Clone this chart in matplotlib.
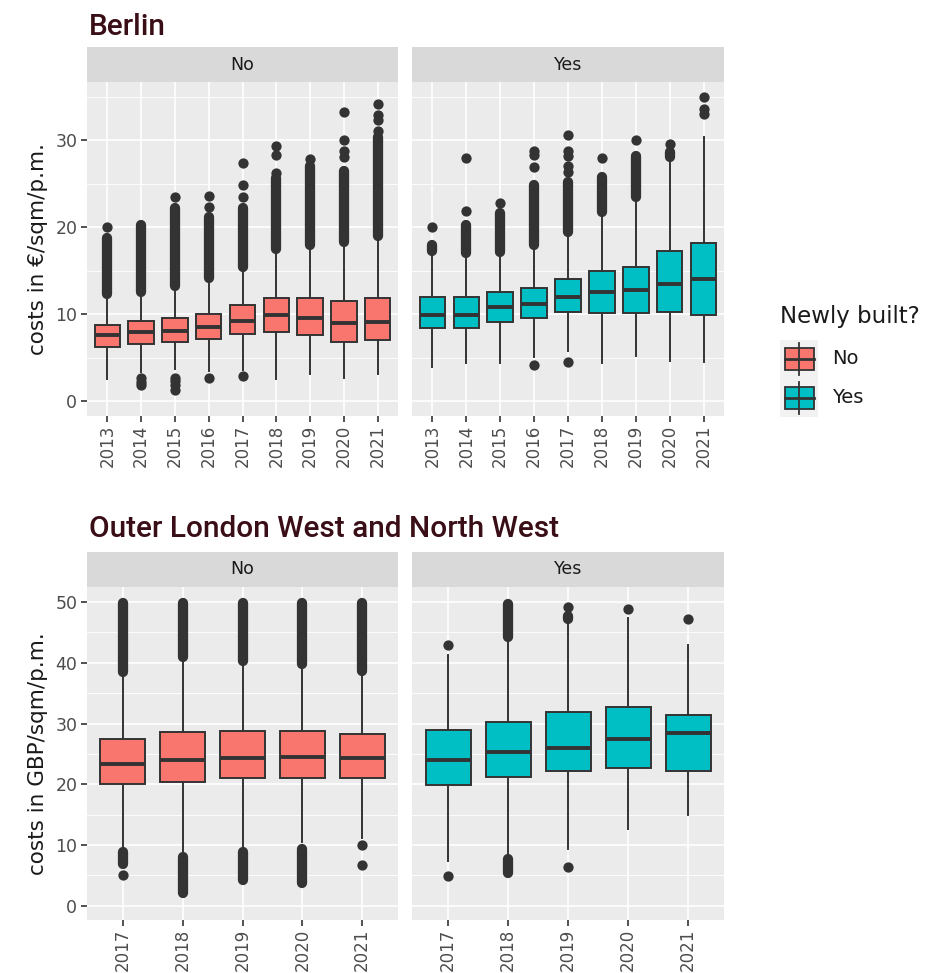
import matplotlib
matplotlib.use("Agg")
import matplotlib.pyplot as plt
from matplotlib.ticker import MultipleLocator, FixedLocator
from matplotlib.patches import Rectangle

plt.rcParams['font.family'] = ['DejaVu Sans']

# ---------------- data ----------------
berlin_years = ["2013", "2014", "2015", "2016", "2017", "2018", "2019", "2020", "2021"]
london_years = ["2017", "2018", "2019", "2020", "2021"]
facets = ["No", "Yes"]

# Berlin, newly built = No
b_no_q1 = [6.25, 6.6, 6.8, 7.1, 7.7, 8.0, 7.6, 6.8, 7.0]
b_no_med = [7.55, 7.9, 8.1, 8.5, 9.2, 9.85, 9.6, 9.0, 9.1]
b_no_q3 = [8.8, 9.2, 9.6, 10.0, 11.0, 11.9, 11.9, 11.5, 11.9]
b_no_lo = [2.5, 3.3, 3.7, 3.4, 3.6, 2.5, 3.1, 2.6, 3.1]
b_no_hi = [12.2, 12.5, 13.1, 14.0, 15.3, 17.4, 17.9, 18.2, 18.9]
b_no_runs = [[(12.3, 18.8)], [(12.6, 20.2)], [(13.2, 22.2)], [(14.1, 21.2)],
             [(15.4, 22.2)], [(17.5, 25.6)], [(18.0, 27.0)], [(18.3, 26.5)],
             [(19.0, 30.4)]]
b_no_pts = [[20.0], [2.7, 2.2, 1.9], [23.5, 2.7, 2.3, 1.8, 1.3], [22.3, 23.6, 2.7],
            [23.5, 24.8, 27.4, 2.9], [26.2, 28.3, 29.3], [27.8],
            [28.1, 28.8, 30.0, 33.3], [31.1, 32.3, 32.9, 34.2]]

# Berlin, newly built = Yes
b_yes_q1 = [8.35, 8.45, 9.1, 9.6, 10.2, 10.15, 10.1, 10.2, 9.9]
b_yes_med = [9.95, 9.95, 10.8, 11.2, 12.0, 12.5, 12.8, 13.5, 14.0]
b_yes_q3 = [11.95, 11.95, 12.5, 12.95, 14.0, 14.95, 15.4, 17.3, 18.2]
b_yes_lo = [3.9, 4.4, 4.4, 5.1, 5.7, 4.4, 5.2, 4.6, 4.5]
b_yes_hi = [17.0, 16.8, 17.0, 17.7, 19.35, 21.6, 23.2, 27.5, 30.4]
b_yes_runs = [[(17.3, 18.0)], [(17.0, 20.3)], [(17.1, 21.6)], [(17.9, 24.8)],
              [(19.5, 25.2)], [(21.7, 25.8)], [(23.5, 28.2)], [(28.1, 28.7)], []]
b_yes_pts = [[20.0], [21.9, 28.0], [22.8], [26.9, 28.3, 28.8, 4.1],
             [26.3, 27.0, 28.2, 28.8, 30.6, 4.45], [28.0], [30.0], [29.6],
             [33.0, 33.6, 35.0]]

# Outer London West and North West, newly built = No
l_no_q1 = [20.0, 20.4, 21.0, 21.05, 21.1]
l_no_med = [23.3, 24.0, 24.3, 24.5, 24.4]
l_no_q3 = [27.5, 28.6, 28.8, 28.75, 28.3]
l_no_lo = [9.2, 8.3, 9.4, 10.5, 11.1]
l_no_hi = [38.2, 40.7, 40.1, 39.6, 38.5]
l_no_runs = [[(38.4, 49.8), (6.8, 8.8)], [(40.9, 49.8), (2.1, 8.0)],
             [(40.3, 49.8), (4.3, 8.9)], [(39.8, 49.8), (3.7, 9.4)],
             [(38.7, 49.8)]]
l_no_pts = [[5.1], [], [], [], [10.0, 6.7]]

# Outer London West and North West, newly built = Yes
l_yes_q1 = [19.85, 21.2, 22.2, 22.6, 22.15]
l_yes_med = [24.0, 25.3, 26.05, 27.5, 28.45]
l_yes_q3 = [29.0, 30.3, 31.9, 32.7, 31.4]
l_yes_lo = [7.4, 8.3, 9.3, 12.6, 14.9]
l_yes_hi = [41.3, 44.0, 46.45, 47.4, 43.0]
l_yes_runs = [[], [(44.3, 49.7), (5.4, 7.7)], [(47.2, 47.7)], [], []]
l_yes_pts = [[42.9, 4.9], [], [49.2, 6.4], [48.9], [47.15]]

# ---------------- style ----------------
W, H = 933, 973
C_NO, C_YES = "#F8766D", "#00BFC4"
DARK = "#333333"
PANEL = "#EBEBEB"
STRIP = "#D9D9D9"
TICKC = "#4D4D4D"
TITLEC = "#3A0E16"
MS = 7.4

fig = plt.figure(figsize=(W / 100, H / 100), dpi=100)
fig.patch.set_facecolor("white")


def add_px_axes(l, t, r, b):
    return fig.add_axes([l / W, 1 - b / H, (r - l) / W, (b - t) / H])


def strip(l, t, r, b, label):
    sa = add_px_axes(l, t, r, b)
    sa.set_facecolor(STRIP)
    sa.set_xticks([]); sa.set_yticks([])
    for s in sa.spines.values():
        s.set_visible(False)
    sa.text(0.5, 0.5, label, ha="center", va="center", fontsize=12.5, color="#1A1A1A",
            transform=sa.transAxes)


def panel(ax, years, q1, med, q3, lo, hi, runs, pts, color, ylim, major, minor, left):
    n = len(years)
    pos = list(range(1, n + 1))
    stats = []
    for i in range(n):
        stats.append(dict(q1=q1[i], med=med[i], q3=q3[i], whislo=lo[i], whishi=hi[i],
                          fliers=pts[i]))
    ax.set_facecolor(PANEL)
    ax.set_axisbelow(True)
    for i in range(n):
        for (a, b) in runs[i]:
            ax.vlines(pos[i], a, b, colors=DARK, linewidth=MS, capstyle="round", zorder=1.5)
    ax.bxp(stats, positions=pos, widths=0.75, patch_artist=True, showcaps=False,
           boxprops=dict(facecolor=color, edgecolor=DARK, linewidth=1.4),
           medianprops=dict(color=DARK, linewidth=2.8, solid_capstyle="butt"),
           whiskerprops=dict(color=DARK, linewidth=1.4),
           flierprops=dict(marker="o", markerfacecolor=DARK, markeredgecolor="none",
                           markersize=MS, linestyle="none"),
           manage_ticks=False, zorder=2)
    ax.set_xlim(0.4, n + 0.6)
    ax.set_ylim(*ylim)
    ax.xaxis.set_major_locator(FixedLocator(pos))
    ax.set_xticklabels(years, rotation=90, fontsize=12, color=TICKC)
    ax.yaxis.set_major_locator(MultipleLocator(major))
    ax.yaxis.set_minor_locator(MultipleLocator(minor))
    ax.grid(which="major", axis="both", color="white", linewidth=1.2)
    ax.grid(which="minor", axis="y", color="white", linewidth=0.6)
    for s in ax.spines.values():
        s.set_visible(False)
    ax.tick_params(axis="x", length=4, width=1.2, color=DARK, pad=2.5)
    ax.tick_params(axis="y", which="minor", length=0)
    if left:
        ax.tick_params(axis="y", which="major", length=4, width=1.2, color=DARK,
                       labelsize=12.5, labelcolor=TICKC, pad=3)
    else:
        ax.tick_params(axis="y", which="major", length=0, labelleft=False)


# Berlin
b_ylim = (-1.72, 36.7)
ax1 = add_px_axes(87, 82, 398, 416)
panel(ax1, berlin_years, b_no_q1, b_no_med, b_no_q3, b_no_lo, b_no_hi, b_no_runs, b_no_pts,
      C_NO, b_ylim, 10, 5, True)
ax1.set_ylabel("costs in €/sqm/p.m.", fontsize=15.5, color="#1A1A1A", labelpad=5)
ax2 = add_px_axes(412, 82, 724, 416)
panel(ax2, berlin_years, b_yes_q1, b_yes_med, b_yes_q3, b_yes_lo, b_yes_hi, b_yes_runs,
      b_yes_pts, C_YES, b_ylim, 10, 5, False)
strip(87, 47, 398, 82, facets[0])
strip(412, 47, 724, 82, facets[1])

# London
l_ylim = (-2.34, 52.47)
ax3 = add_px_axes(87, 587, 398, 920)
panel(ax3, london_years, l_no_q1, l_no_med, l_no_q3, l_no_lo, l_no_hi, l_no_runs, l_no_pts,
      C_NO, l_ylim, 10, 5, True)
ax3.set_ylabel("costs in GBP/sqm/p.m.", fontsize=15.5, color="#1A1A1A", labelpad=5)
ax4 = add_px_axes(412, 587, 724, 920)
panel(ax4, london_years, l_yes_q1, l_yes_med, l_yes_q3, l_yes_lo, l_yes_hi, l_yes_runs,
      l_yes_pts, C_YES, l_ylim, 10, 5, False)
strip(87, 552, 398, 587, facets[0])
strip(412, 552, 724, 587, facets[1])

# Titles
fig.text(89 / W, 1 - 35 / H, "Berlin", fontsize=21.5, color=TITLEC, family="Roboto",
         weight="medium", ha="left", va="baseline")
fig.text(89 / W, 1 - 537 / H, "Outer London West and North West", fontsize=21.5,
         color=TITLEC, family="Roboto", weight="medium", ha="left", va="baseline")

# Legend
lg = add_px_axes(760, 295, 933, 425)
lg.set_xlim(760, 933)
lg.set_ylim(425, 295)
lg.axis("off")
lg.text(780, 316, "Newly built?", fontsize=16.5, color="#1A1A1A", ha="left", va="center")
for k, (lab, col) in enumerate(zip(facets, [C_NO, C_YES])):
    top = 340 + k * 38.5
    lg.add_patch(Rectangle((780, top), 38, 38.5, facecolor="#F2F2F2", edgecolor="none"))
    cy = top + 19
    lg.plot([799, 799], [top + 3, top + 35], color=DARK, lw=1.3)
    lg.add_patch(Rectangle((785, cy - 11), 29, 22, facecolor=col, edgecolor=DARK, lw=1.3))
    lg.plot([785, 814], [cy, cy], color=DARK, lw=2.0)
    lg.text(832, cy, lab, fontsize=14, color="#1A1A1A", ha="left", va="center")

fig.savefig("out.png", dpi=100)
